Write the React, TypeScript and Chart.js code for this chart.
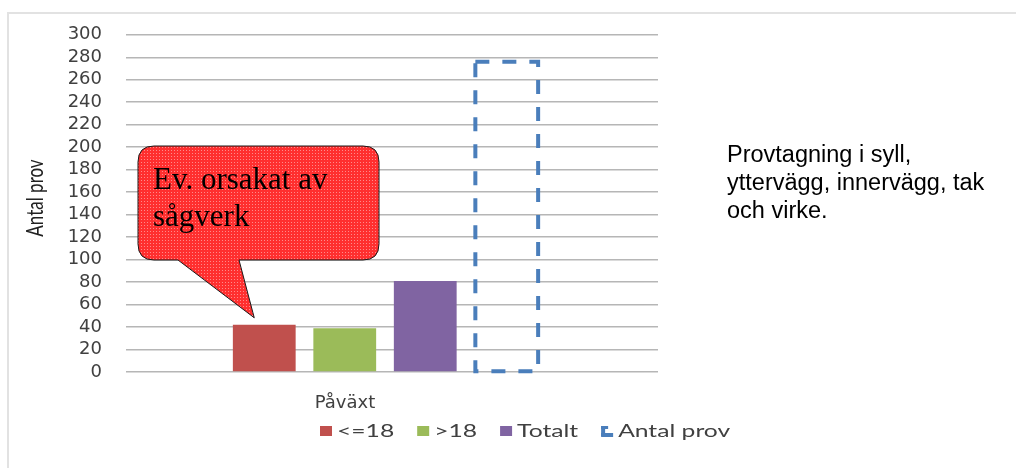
import React, { useEffect, useRef } from 'react';
import { Chart, registerables } from 'chart.js';

Chart.register(...registerables);

// ---- data ----
const categories = ['Påväxt'];
const seriesLabels = ['<=18', '>18', 'Totalt', 'Antal prov'];
const le18Values = [42];
const gt18Values = [39];
const totaltValues = [81];
const antalProvValues = [276];
const yMin = 0;
const yMax = 300;
const yStep = 20;
const yTitle = 'Antal prov';
const calloutLines = ['Ev. orsakat av', 'sågverk'];
const noteLines = ['Provtagning i syll,', 'yttervägg, innervägg, tak', 'och virke.'];

// ---- style ----
const RED = '#C0504D';
const GREEN = '#9BBB59';
const PURPLE = '#8064A2';
const BLUE = '#4A7EBB';
const GRID = '#b6b6b6';
const TEXT = '#404040';

const makePattern = (ctx: CanvasRenderingContext2D) => {
  const c = document.createElement('canvas');
  c.width = 3;
  c.height = 3;
  const p = c.getContext('2d')!;
  p.fillStyle = '#ff2f2f';
  p.fillRect(0, 0, 3, 3);
  p.fillStyle = '#ff8a8a';
  p.fillRect(0, 0, 1, 1);
  return ctx.createPattern(c, 'repeat');
};

const customPlugin = {
  id: 'customDraw',
  afterDatasetsDraw(chart: any) {
    const ctx: CanvasRenderingContext2D = chart.ctx;

    // dashed outline bar (Antal prov)
    const el = chart.getDatasetMeta(3).data[0];
    const { x, y, base, width } = el.getProps(['x', 'y', 'base', 'width'], true);
    ctx.save();
    ctx.strokeStyle = BLUE;
    ctx.lineWidth = 4;
    ctx.setLineDash([14, 13]);
    ctx.strokeRect(x - width / 2 + 1, y, width, base - y);
    ctx.restore();

    // callout pointing at the first bar
    const red = chart.getDatasetMeta(0).data[0];
    const rp = red.getProps(['x', 'y'], true);
    const tipX = rp.x - 10;
    const tipY = rp.y - 7;
    const L = 138, T = 146, R = 379, B = 260, r = 16;
    const baseL = 178, baseR = 239;
    ctx.save();
    ctx.beginPath();
    ctx.moveTo(L + r, T);
    ctx.lineTo(R - r, T);
    ctx.quadraticCurveTo(R, T, R, T + r);
    ctx.lineTo(R, B - r);
    ctx.quadraticCurveTo(R, B, R - r, B);
    ctx.lineTo(baseR, B);
    ctx.lineTo(tipX, tipY);
    ctx.lineTo(baseL, B);
    ctx.lineTo(L + r, B);
    ctx.quadraticCurveTo(L, B, L, B - r);
    ctx.lineTo(L, T + r);
    ctx.quadraticCurveTo(L, T, L + r, T);
    ctx.closePath();
    ctx.fillStyle = makePattern(ctx) || '#ff3030';
    ctx.fill();
    ctx.strokeStyle = '#1a1a1a';
    ctx.lineWidth = 1;
    ctx.stroke();
    ctx.fillStyle = '#000';
    ctx.font = '31px "Liberation Serif", "Times New Roman", serif';
    ctx.textAlign = 'left';
    ctx.textBaseline = 'alphabetic';
    ctx.fillText(calloutLines[0], 153, 189);
    ctx.fillText(calloutLines[1], 153, 226);
    ctx.restore();
  },
  afterDraw(chart: any) {
    const ctx: CanvasRenderingContext2D = chart.ctx;
    // y axis title
    ctx.save();
    ctx.translate(36, 198);
    ctx.rotate(-Math.PI / 2);
    ctx.scale(1, 1.3);
    ctx.fillStyle = '#222';
    ctx.font = '17px Lato, "Open Sans", sans-serif';
    ctx.textAlign = 'center';
    ctx.textBaseline = 'middle';
    ctx.fillText(yTitle, 0, 0);
    ctx.restore();

    // legend
    const sx = 1.45;
    const cy = 431;
    let cx = 320;
    ctx.save();
    ctx.font = '17px Lato, "Open Sans", sans-serif';
    ctx.textBaseline = 'middle';
    chart.data.datasets.forEach((ds: any, i: number) => {
      if (i === 3) {
        ctx.fillStyle = BLUE;
        ctx.fillRect(cx, cy - 5, 4, 10);
        ctx.fillRect(cx, cy + 2, 12, 4);
        ctx.fillRect(cx, cy - 5, 7, 3);
      } else {
        ctx.fillStyle = ds.backgroundColor;
        ctx.fillRect(cx, cy - 5, 12, 10);
      }
      const tx = cx + 17;
      const w = ctx.measureText(ds.label).width * sx;
      ctx.save();
      ctx.translate(tx, cy);
      ctx.scale(sx, 1);
      ctx.fillStyle = TEXT;
      ctx.fillText(ds.label, 0, 1);
      ctx.restore();
      cx = tx + w + 23;
    });
    ctx.restore();
  },
};

export default function App() {
  const ref = useRef<HTMLCanvasElement>(null);

  useEffect(() => {
    if (!ref.current) return;
    const common = { borderWidth: 0, categoryPercentage: 0.6216, barPercentage: 0.78 };
    const chart = new Chart(ref.current, {
      type: 'bar',
      data: {
        labels: categories,
        datasets: [
          { label: seriesLabels[0], data: le18Values, backgroundColor: RED, ...common },
          { label: seriesLabels[1], data: gt18Values, backgroundColor: GREEN, ...common },
          { label: seriesLabels[2], data: totaltValues, backgroundColor: PURPLE, ...common },
          { label: seriesLabels[3], data: antalProvValues, backgroundColor: 'rgba(0,0,0,0)', borderColor: BLUE, ...common },
        ],
      },
      options: {
        responsive: false,
        animation: false,
        layout: { padding: { left: 0, right: 358, top: 33, bottom: 56 } },
        plugins: { legend: { display: false }, tooltip: { enabled: false } },
        scales: {
          x: {
            grid: { display: false },
            border: { display: false },
            ticks: {
              color: TEXT,
              font: { family: '"DejaVu Sans", sans-serif', size: 18 },
              padding: 13,
              labelOffset: -40,
            },
            afterFit: (s: any) => { s.height = 40; },
          },
          y: {
            min: yMin,
            max: yMax,
            ticks: {
              stepSize: yStep,
              autoSkip: false,
              color: TEXT,
              font: { family: '"DejaVu Sans", sans-serif', size: 18 },
              padding: 24,
            },
            grid: { color: GRID, lineWidth: 1.5, drawTicks: false },
            border: { display: false },
            afterFit: (s: any) => { s.width = 126; },
          },
          y2: {
            position: 'right',
            min: yMin,
            max: yMax,
            ticks: { stepSize: yStep, autoSkip: false, display: false },
            grid: { drawOnChartArea: false, drawTicks: true, tickLength: 14, color: GRID, lineWidth: 1.5 },
            border: { display: false },
            afterFit: (s: any) => { s.width = 14; },
          },
        },
      } as any,
      plugins: [customPlugin],
    });
    return () => chart.destroy();
  }, []);

  return (
    <div>
      <div
        style={{
          position: 'fixed',
          left: 7,
          top: 12,
          width: 1040,
          height: 500,
          borderTop: '2px solid #e2e2e2',
          borderLeft: '2px solid #e2e2e2',
        }}
      />
      <canvas
        ref={ref}
        width={1016}
        height={468}
        style={{ position: 'fixed', left: 0, top: 0, width: 1016, height: 468 }}
      />
      <div
        style={{
          position: 'fixed',
          left: 727,
          top: 140,
          fontFamily: '"Liberation Sans", Arial, sans-serif',
          fontSize: 23.5,
          lineHeight: '28px',
          color: '#000',
          whiteSpace: 'nowrap',
        }}
      >
        {noteLines.map((l, i) => (
          <div key={i}>{l}</div>
        ))}
      </div>
    </div>
  );
}
